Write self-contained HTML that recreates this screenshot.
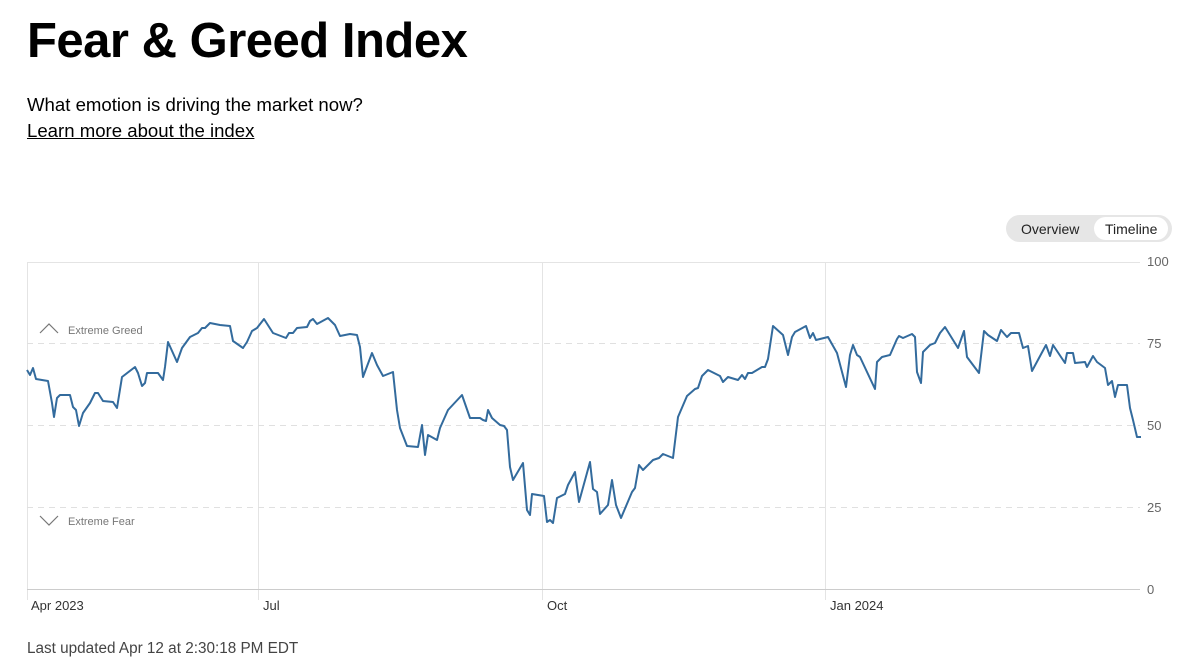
<!DOCTYPE html>
<html><head><meta charset="utf-8"><style>
body{margin:0;width:1200px;height:665px;background:#fff;font-family:"Liberation Sans",Arial,sans-serif;position:relative;overflow:hidden;color:#000}
h1{position:absolute;left:27px;top:13px;margin:0;font-size:49px;font-weight:bold;letter-spacing:-0.5px}
.sub{position:absolute;left:27px;top:94px;font-size:18.6px}
.lnk{position:absolute;left:27px;top:120px;font-size:18.6px;text-decoration:underline}
.pill{position:absolute;left:1006px;top:215px;width:166px;height:27px;border-radius:14px;background:#e6e6e6}
.pill span{position:absolute;top:6px;font-size:14px;color:#222}
.pill .on{left:88px;top:2px;width:74px;height:23px;border-radius:12px;background:#fff}
.foot{position:absolute;left:27px;top:640px;font-size:15.3px;color:#444}
</style></head><body>
<h1>Fear &amp; Greed Index</h1>
<div class="sub">What emotion is driving the market now?</div>
<div class="lnk">Learn more about the index</div>
<div class="pill"><div class="on" style="position:absolute"></div><span style="left:15px">Overview</span><span style="left:99px">Timeline</span></div>
<svg width="1200" height="665" style="position:absolute;left:0;top:0" font-family="Liberation Sans, Arial, sans-serif">
<g stroke="#e4e4e4" stroke-width="1" fill="none">
<line x1="27" y1="262.5" x2="1140" y2="262.5"/>
<line x1="27.5" y1="262" x2="27.5" y2="600"/>
<line x1="258.5" y1="262" x2="258.5" y2="600"/>
<line x1="542.5" y1="262" x2="542.5" y2="600"/>
<line x1="825.5" y1="262" x2="825.5" y2="600"/>
<line x1="27" y1="589.5" x2="1140" y2="589.5" stroke="#ccc"/>
</g>
<g stroke="#e0e0e0" stroke-dasharray="6,5" stroke-width="1">
<line x1="27" y1="343.5" x2="1140" y2="343.5"/>
<line x1="27" y1="425.5" x2="1140" y2="425.5"/>
<line x1="27" y1="507.5" x2="1140" y2="507.5"/>
</g>
<g font-size="13" fill="#666">
<text x="1147" y="266">100</text><text x="1147" y="348">75</text><text x="1147" y="430">50</text><text x="1147" y="512">25</text><text x="1147" y="594">0</text>
<text x="31" y="610" fill="#333">Apr 2023</text><text x="263" y="610" fill="#333">Jul</text><text x="547" y="610" fill="#333">Oct</text><text x="830" y="610" fill="#333">Jan 2024</text>
</g>
<g font-size="11" fill="#777">
<polyline points="40,333 49,324 58,333" fill="none" stroke="#777" stroke-width="1.2"/>
<text x="68" y="334">Extreme Greed</text>
<polyline points="40,516 49,525 58,516" fill="none" stroke="#777" stroke-width="1.2"/>
<text x="68" y="525">Extreme Fear</text>
</g>
<polyline fill="none" stroke="#336b9d" stroke-width="2" stroke-linejoin="round" points="27,370 30,375 33,368 36,379 48,381 52,403 54,417 57,398 60,395 70,395 73,407 76,410 79,426 83,413 90,403 95,393 98,393 103,401 113,402 117,408 122,377 135,367 138,373 142,386 145,383 147,373 158,373 163,380 165,367 168,342 177,362 182,348 190,337 198,333 202,328 205,328 210,323 220,325 230,326 233,341 243,348 247,342 252,331 257,328 264,319 273,333 286,338 289,333 293,333 297,328 307,327 310,321 313,319 317,324 328,318 335,325 340,336 350,334 357,335 360,347 363,377 372,353 377,365 383,376 393,372 397,410 400,428 407,446 418,447 422,425 425,455 428,435 437,440 440,428 448,410 462,395 470,418 480,418 483,420 486,421 488,410 492,418 500,425 504,426 507,430 510,467 513,480 523,463 527,510 530,515 532,494 544,496 547,522 550,520 553,523 557,498 565,494 568,485 575,472 579,502 590,462 593,489 597,492 600,514 608,505 612,480 616,505 621,518 632,492 635,488 639,465 643,470 653,460 659,458 663,454 673,458 678,417 687,396 695,389 698,388 702,376 708,370 720,376 723,382 728,377 738,380 742,375 745,379 748,373 752,373 762,367 765,367 768,359 773,326 783,335 788,355 792,337 795,332 806,326 810,338 813,333 816,340 828,337 837,353 846,387 850,355 853,345 857,355 860,357 875,389 877,362 882,357 890,355 897,339 899,336 903,338 912,334 915,337 917,372 921,383 923,352 930,345 935,343 940,333 945,327 958,348 964,331 967,357 979,373 984,331 988,335 997,341 1001,330 1007,337 1011,333 1019,333 1023,348 1028,346 1032,371 1046,345 1050,356 1053,345 1065,363 1067,353 1073,353 1075,363 1085,362 1087,367 1093,356 1097,362 1105,368 1108,385 1112,381 1115,397 1118,385 1127,385 1130,408 1133,420 1137,437 1141,437"/>
</svg>
<div class="foot">Last updated Apr 12 at 2:30:18 PM EDT</div>
</body></html>
